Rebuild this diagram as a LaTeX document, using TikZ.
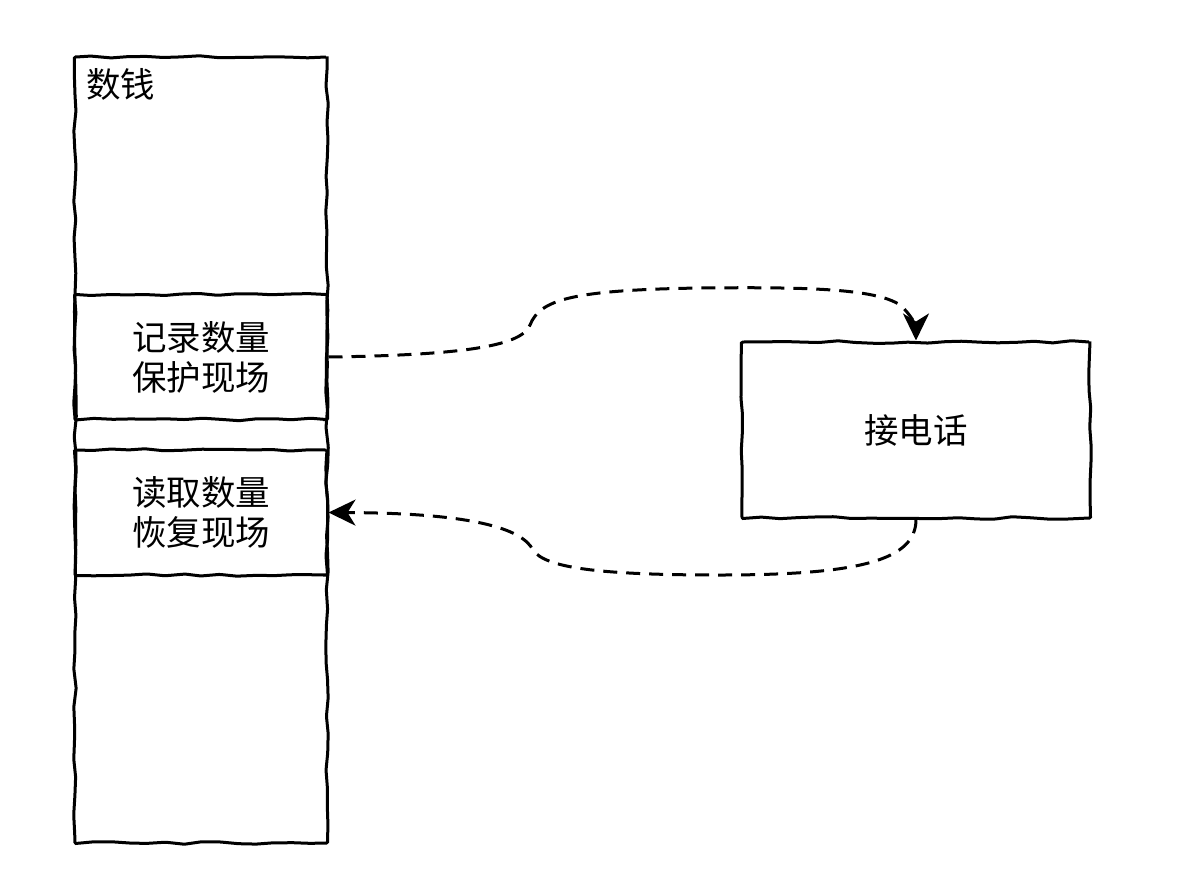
\documentclass[tikz,border=0pt]{standalone}
\usepackage{fontspec}
\newfontfamily\cjk{Noto Sans CJK SC}
\usetikzlibrary{decorations.pathmorphing,arrows.meta}
\tikzset{
  sketch/.style={draw=black, line width=3pt, decorate,
    decoration={random steps, segment length=18pt, amplitude=1.3pt}, rounded corners=1pt},
  box/.style={sketch, rectangle, minimum width=252pt, minimum height=125pt, inner sep=0pt,
    font=\cjk\fontsize{34.5}{40}\selectfont, align=center},
  conn/.style={line width=3pt, dash pattern=on 14pt off 9pt, -{Stealth[length=27pt,width=26pt,inset=8pt]}},
  lbl/.style={font=\cjk\fontsize{34.5}{40}\selectfont, inner sep=0pt}
}
\begin{document}
\begin{tikzpicture}[x=1pt,y=-1pt]
\pgfmathsetseed{4242}
\useasboundingbox (0,0) rectangle (1200,892);
\node[sketch, rectangle, minimum width=252pt, minimum height=786pt, inner sep=0pt] (col) at (201,450) {};
\node[box] (jl) at (201,357) {记录数量\\保护现场};
\node[box] (dq) at (201,512.5) {读取数量\\恢复现场};
\node[lbl, anchor=north west] (sq) at (86,68) {数钱};
\node[box, minimum width=348pt, minimum height=176pt] (call) at (916,430) {接电话};
\draw[conn] (jl.east) .. controls (470,355) and (522,345) .. (530,325)
  .. controls (540,300) and (570,290) .. (700,288)
  .. controls (800,287) and (875,288) .. (900,305)
  .. controls (912,315) and (916,328) .. (call.north);
\draw[conn] (call.south) .. controls (916,560) and (860,575) .. (720,575)
  .. controls (600,575) and (545,568) .. (533,550)
  .. controls (522,528) and (470,513) .. (dq.east);
\end{tikzpicture}
\end{document}
